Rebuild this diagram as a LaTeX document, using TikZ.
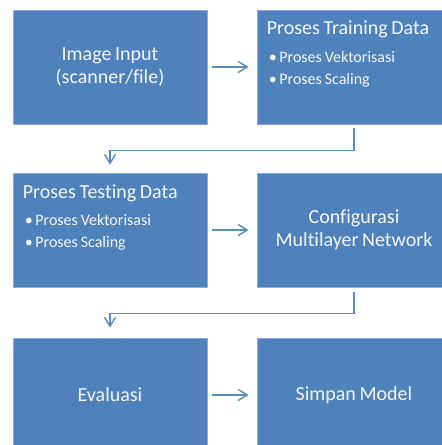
\documentclass[tikz,border=0pt]{standalone}
\usepackage{fontspec}
\setmainfont{Carlito}[WordSpace=0.8, Ligatures=NoCommon]
\usetikzlibrary{arrows.meta}

\definecolor{boxblue}{HTML}{4F81BD}
\definecolor{lineblue}{HTML}{5A8BC7}
\definecolor{edgeblue}{HTML}{8EAAD6}

\tikzset{
  stepbox/.style={draw=edgeblue, line width=0.8pt, fill=boxblue, minimum width=194pt, minimum height=114pt, inner sep=0pt},
  bigtext/.style={text=white!94!boxblue, inner sep=0pt, font=\fontsize{20}{23}\selectfont},
  smalltext/.style={text=white!94!boxblue, inner sep=0pt, font=\fontsize{16}{22}\selectfont},
  flow/.style={draw=lineblue, line width=1.4pt, -{Straight Barb[length=9pt,width=11pt]}}
}

\begin{document}
\begin{tikzpicture}[x=1pt,y=-1pt]
\useasboundingbox (0,0) rectangle (442,445);
\clip (0,0) rectangle (442,445);
% boxes
\node[stepbox, bigtext, align=center] (input) at (110,67) {Image Input\\(scanner/file)};
\node[stepbox] (train) at (354,67) {};
\node[stepbox] (test) at (110,230) {};
\node[stepbox, bigtext, align=center] (config) at (354,230) {Configurasi\\Multilayer Network};
\node[stepbox, bigtext] (eval) at (110,395) {Evaluasi};
\node[stepbox, bigtext] (save) at (354,395) {Simpan Model};
% training text
\node[bigtext, anchor=base west] (traintitle) at ([shift={(10,25)}]train.north west) {Proses Training Data};
\node[smalltext, anchor=base west] (trainvek) at ([shift={(12,53)}]train.north west) {\textbullet\,Proses Vektorisasi};
\node[smalltext, anchor=base west] (trainscl) at ([shift={(12,75)}]train.north west) {\textbullet\,Proses Scaling};
% testing text
\node[bigtext, anchor=base west] (testtitle) at ([shift={(10,26)}]test.north west) {Proses Testing Data};
\node[smalltext, anchor=base west] (testvek) at ([shift={(12,53)}]test.north west) {\textbullet\,Proses Vektorisasi};
\node[smalltext, anchor=base west] (testscl) at ([shift={(12,75)}]test.north west) {\textbullet\,Proses Scaling};
% connectors
\draw[flow, shorten <=5pt, shorten >=8pt] (input) -- (train);
\draw[flow, shorten <=4pt, shorten >=8pt] (train.south) -- ++(0,26) -| (test.north);
\draw[flow, shorten <=5pt, shorten >=8pt] (test) -- (config);
\draw[flow, shorten <=5pt, shorten >=10pt] (config.south) -- ++(0,26) -| (eval.north);
\draw[flow, shorten <=5pt, shorten >=8pt] (eval) -- (save);
\end{tikzpicture}
\end{document}
